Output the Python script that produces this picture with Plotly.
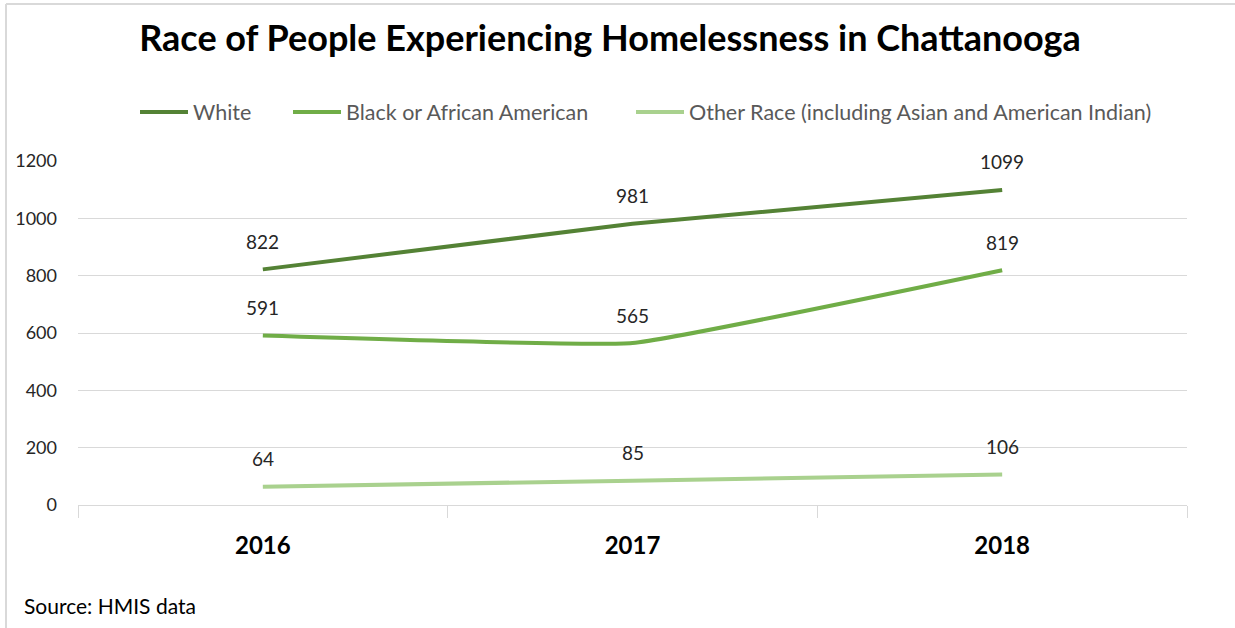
import plotly.graph_objects as go

years = ["2016", "2017", "2018"]
white = [822, 981, 1099]
black = [591, 565, 819]
other = [64, 85, 106]
series_names = ["White", "Black or African American", "Other Race (including Asian and American Indian)"]
colors = ["#548235", "#70AD47", "#A9D18E"]
y_ticks = [0, 200, 400, 600, 800, 1000, 1200]

W, H = 1235, 628
L, R, T, B = 78, 48, 161, 123
PW, PH = W - L - R, H - T - B

def px(x):
    return (x - L) / PW

def py(y):
    return (H - B - y) / PH

FONT = "Lato"
fig = go.Figure()
all_series = [white, black, other]
legend_x = [135, 288, 631]
for i, (name, vals, col) in enumerate(zip(series_names, all_series, colors)):
    lg = "legend" if i == 0 else f"legend{i+1}"
    fig.add_trace(go.Scatter(
        x=years, y=vals, name=name, mode="lines",
        line=dict(color=col, width=4, shape="spline", smoothing=0.3),
        legend=lg, hoverinfo="skip"))
    # category axis: annotation x given as category index
    for ci, yv in enumerate(vals):
        fig.add_annotation(x=ci, y=yv, xref="x", yref="y", text=str(yv), showarrow=False,
                           yshift=28, font=dict(family=FONT, size=19, color="#262626"))

legend_common = dict(orientation="h", yanchor="middle", xanchor="left",
                     bgcolor="rgba(0,0,0,0)", font=dict(family=FONT, size=21.5, color="#595959"),
                     itemwidth=48)
fig.update_layout(
    legend=dict(x=px(legend_x[0]), y=py(112), **legend_common),
    legend2=dict(x=px(legend_x[1]), y=py(112), **legend_common),
    legend3=dict(x=px(legend_x[2]), y=py(112), **legend_common),
)

fig.update_layout(
    width=W, height=H,
    margin=dict(l=L, r=R, t=T, b=B),
    paper_bgcolor="white", plot_bgcolor="white",
    title=dict(text="<b>Race of People Experiencing Homelessness in Chattanooga</b>",
               x=610 / W, xanchor="center", y=1 - 38 / H, yanchor="middle",
               font=dict(family=FONT, size=36, color="#000000")),
    xaxis=dict(type="category", range=[-0.5, 2.5], tickson="boundaries",
               ticks="outside", ticklen=12, tickcolor="#d9d9d9",
               showline=True, linecolor="#d9d9d9", linewidth=1, showgrid=False,
               tickfont=dict(family=FONT, size=24, color="#000000", weight="bold"),
               ticklabelstandoff=19),
    yaxis=dict(range=[0, 1200], tickvals=y_ticks, showgrid=True, gridcolor="#d9d9d9",
               gridwidth=1, zeroline=False, showline=False,
               tickfont=dict(family=FONT, size=18, color="#262626"), ticklabelstandoff=20),
    showlegend=True,
)

fig.add_annotation(xref="paper", yref="paper", x=px(22), y=py(605), xanchor="left",
                   yanchor="middle", text="Source: HMIS data", showarrow=False,
                   font=dict(family=FONT, size=21, color="#000000"))

# frame edges (top and left)
fig.add_shape(type="line", xref="paper", yref="paper", x0=px(6), x1=px(1235), y0=py(4), y1=py(4),
              line=dict(color="#d9d9d9", width=2))
fig.add_shape(type="line", xref="paper", yref="paper", x0=px(6), x1=px(6), y0=py(4), y1=py(628),
              line=dict(color="#d9d9d9", width=2))

fig.write_html("out.html")
